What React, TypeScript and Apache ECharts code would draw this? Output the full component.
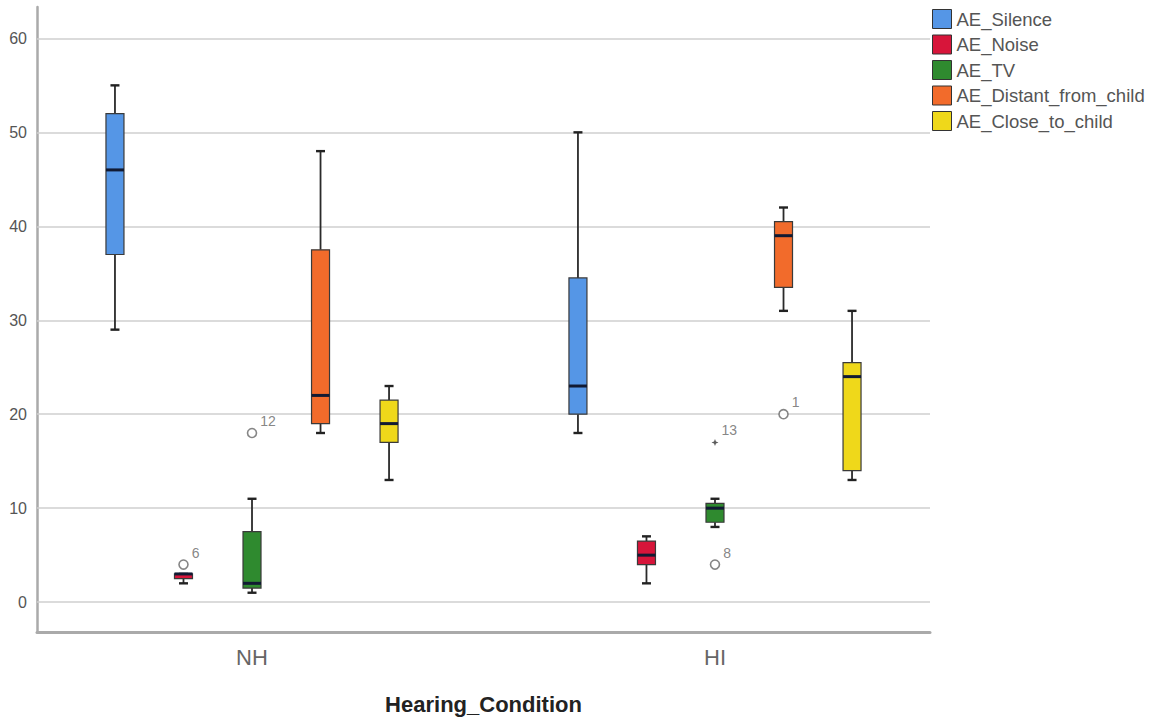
import React, { useEffect, useRef } from "react";
import * as echarts from "echarts";

const categories = ["NH", "HI"];
const seriesNames = ["AE_Silence", "AE_Noise", "AE_TV", "AE_Distant_from_child", "AE_Close_to_child"];
const seriesColors = ["#5596e6", "#d7153a", "#2f8a2f", "#f26b2b", "#efd81a"];

// [min, Q1, median, Q3, max] for NH, HI
const silence = [[29, 37, 46, 52, 55], [18, 20, 23, 34.5, 50]];
const noise = [[2, 2.5, 3, 3, 3], [2, 4, 5, 6.5, 7]];
const tv = [[1, 1.5, 2, 7.5, 11], [8, 8.5, 10, 10.5, 11]];
const distant = [[18, 19, 22, 37.5, 48], [31, 33.5, 39, 40.5, 42]];
const closeTo = [[13, 17, 19, 21.5, 23], [13, 14, 24, 25.5, 31]];
const boxData = [silence, noise, tv, distant, closeTo];

// outliers
const outlierCategory = [0, 0, 1, 1, 1];
const outlierSeries = [1, 2, 2, 2, 3];
const outlierValues = [4, 18, 17, 4, 20];
const outlierLabels = ["6", "12", "13", "8", "1"];
const outlierExtreme = [false, false, true, false, false];

const yTicks = [0, 10, 20, 30, 40, 50, 60];

const FONT = "'Liberation Sans', Arial, sans-serif";
const SLOT = 0.148; // offset between boxes within a category (in category units)
const offsetOf = (i: number) => (i - 2) * SLOT;

export default function App() {
  const ref = useRef<HTMLDivElement>(null);
  useEffect(() => {
    if (!ref.current) return;
    const chart = echarts.init(ref.current, null, { renderer: "svg" });

    const boxSeries = seriesNames.map((name, si) => ({
      name,
      type: "custom",
      z: 3,
      itemStyle: { color: seriesColors[si], borderColor: "#333", borderWidth: 1 },
      encode: { x: 0, y: [1, 2, 3, 4, 5] },
      data: boxData[si].map((v, ci) => [ci, ...v]),
      renderItem: (params: any, api: any) => {
        const x = api.value(0) + offsetOf(si);
        const pMin = api.coord([x, api.value(1)]);
        const pQ1 = api.coord([x, api.value(2)]);
        const pMed = api.coord([x, api.value(3)]);
        const pQ3 = api.coord([x, api.value(4)]);
        const pMax = api.coord([x, api.value(5)]);
        const cx = pMin[0];
        const hw = 9;
        const cap = 4.5;
        const stroke = { stroke: "#2a2a2a", lineWidth: 1.8 };
        return {
          type: "group",
          children: [
            { type: "line", shape: { x1: cx, y1: pMax[1], x2: cx, y2: pQ3[1] }, style: stroke },
            { type: "line", shape: { x1: cx, y1: pQ1[1], x2: cx, y2: pMin[1] }, style: stroke },
            { type: "line", shape: { x1: cx - cap, y1: pMax[1], x2: cx + cap, y2: pMax[1] }, style: { stroke: "#222", lineWidth: 2.4 } },
            { type: "line", shape: { x1: cx - cap, y1: pMin[1], x2: cx + cap, y2: pMin[1] }, style: { stroke: "#222", lineWidth: 2.4 } },
            {
              type: "rect",
              shape: { x: cx - hw, y: pQ3[1], width: hw * 2, height: Math.max(pQ1[1] - pQ3[1], 1) },
              style: { fill: seriesColors[si], stroke: "#3a3a3a", lineWidth: 1.2 },
            },
            { type: "line", shape: { x1: cx - hw, y1: pMed[1], x2: cx + hw, y2: pMed[1] }, style: { stroke: "#111a33", lineWidth: 3 } },
          ],
        };
      },
    }));

    const outlierData = outlierValues.map((v, i) => ({
      value: [outlierCategory[i] + offsetOf(outlierSeries[i]), v],
      symbol: outlierExtreme[i]
        ? "path://M0,-5L1.4,-1.4L5,0L1.4,1.4L0,5L-1.4,1.4L-5,0L-1.4,-1.4Z"
        : "circle",
      symbolSize: outlierExtreme[i] ? 7 : 9,
      itemStyle: outlierExtreme[i]
        ? { color: "#333", borderWidth: 0 }
        : { color: "#ffffff", borderColor: "#666", borderWidth: 1.6 },
      label: {
        show: true,
        formatter: outlierLabels[i],
        position: "right",
        distance: 3,
        offset: [0, -12],
        fontSize: 14,
        color: "#666",
        fontFamily: FONT,
      },
    }));

    chart.setOption({
      animation: false,
      backgroundColor: "#ffffff",
      textStyle: { fontFamily: FONT },
      grid: { left: 37, right: 224, top: 7, bottom: 86, containLabel: false },
      legend: {
        data: seriesNames,
        orient: "vertical",
        left: 932,
        top: 9,
        padding: 0,
        itemWidth: 19,
        itemHeight: 19,
        itemGap: 5.5,
        icon: "rect",
        itemStyle: { borderColor: "#333", borderWidth: 1 },
        textStyle: { fontSize: 18.5, color: "#555", fontFamily: FONT },
        selectedMode: false,
      },
      xAxis: {
        type: "value",
        min: -0.4644,
        max: 1.4644,
        splitLine: { show: false },
        axisTick: { show: false },
        axisLine: { show: true, onZero: false, lineStyle: { color: "#aaaaaa", width: 3 } },
        axisLabel: {
          customValues: categories.map((_, i) => i),
          formatter: (v: number) => categories[Math.round(v)] ?? "",
          fontSize: 22,
          color: "#666",
          margin: 14,
          fontFamily: FONT,
        },
        name: "Hearing_Condition",
        nameLocation: "middle",
        nameGap: 61,
        nameTextStyle: { fontSize: 22, fontWeight: "bold", color: "#222", fontFamily: FONT },
      },
      yAxis: {
        type: "value",
        min: -3.18,
        max: 63.34,
        splitLine: { show: false },
        axisTick: { show: false },
        axisLine: { show: true, onZero: false, lineStyle: { color: "#aaaaaa", width: 2.5 } },
        axisLabel: {
          customValues: yTicks,
          fontSize: 16,
          color: "#555",
          margin: 10,
          fontFamily: FONT,
        },
      },
      series: [
        {
          name: "grid",
          type: "line",
          data: [],
          z: 1,
          silent: true,
          markLine: {
            silent: true,
            z: 1,
            zlevel: 0,
            symbol: "none",
            label: { show: false },
            lineStyle: { color: "#cfcfcf", width: 1.6, type: "solid" },
            data: yTicks.map((t) => ({ yAxis: t })),
          },
        },
        ...boxSeries,
        {
          name: "outliers",
          type: "scatter",
          z: 4,
          data: outlierData,
        },
      ],
    });
    return () => chart.dispose();
  }, []);
  return (
    <div
      ref={ref}
      style={{ position: "absolute", left: 0, top: 0, width: 1154, height: 720, background: "#fff" }}
    />
  );
}
